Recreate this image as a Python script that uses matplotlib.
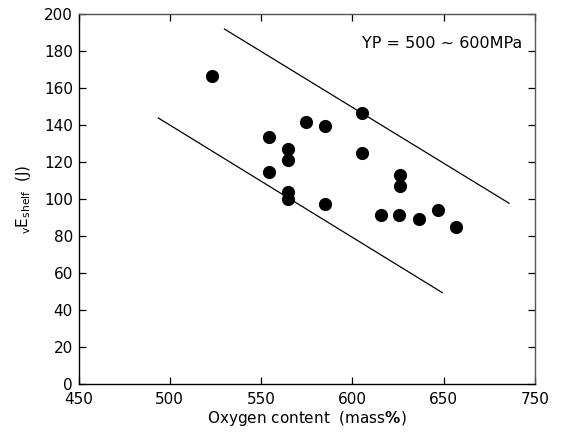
import matplotlib
matplotlib.use("Agg")
import matplotlib.pyplot as plt

plt.rcParams['font.family'] = ['DejaVu Sans']
plt.rcParams['mathtext.fontset'] = 'dejavusans'

# Data
oxygen = [523, 554.3, 554.3, 564.6, 564.6, 564.6, 564.6, 574.6, 585.2, 585.2,
          605.3, 605.3, 626, 626, 615.8, 625.7, 636.5, 646.7, 656.9]
energy = [166.6, 133.7, 114.4, 126.9, 121.1, 103.6, 100.2, 141.8, 139.5, 97.1,
          146.4, 125.1, 113, 107.2, 91.2, 91.2, 89.4, 94.1, 85.0]

upper_x = [529.9, 685.8]
upper_y = [191.9, 97.7]
lower_x = [493.7, 649.2]
lower_y = [143.8, 49.4]

xticks = [450, 500, 550, 600, 650, 700]
xticklabels = ["450", "500", "550", "600", "650", "750"]
yticks = [0, 20, 40, 60, 80, 100, 120, 140, 160, 180, 200]

fig = plt.figure(figsize=(5.79, 4.41), dpi=100)
ax = fig.add_axes([78.5/579, 1-384/441, (535-78.5)/579, (384-14)/441])

ax.plot(upper_x, upper_y, color='black', lw=0.9)
ax.plot(lower_x, lower_y, color='black', lw=0.9)
ax.scatter(oxygen, energy, s=90, color='black', zorder=3, linewidths=0)

ax.set_xlim(450, 700)
ax.set_ylim(0, 200)
ax.set_xticks(xticks)
ax.set_xticklabels(xticklabels)
ax.set_yticks(yticks)
ax.tick_params(direction='in', length=5, width=0.9, labelsize=11, colors='black',
               top=True, right=True)
ax.tick_params(axis='x', pad=6)
ax.tick_params(axis='y', pad=4)
for side in ['left', 'bottom']:
    ax.spines[side].set_color('black')
    ax.spines[side].set_linewidth(1.0)
for side in ['top', 'right']:
    ax.spines[side].set_color('#555555')
    ax.spines[side].set_linewidth(1.0)

ax.text(605, 183.8, 'YP = 500 ~ 600MPa', fontsize=11.5, ha='left', va='center')

ax.set_xlabel(r'Oxygen content  (mass$\mathbf{\%}$)', fontsize=11, labelpad=1)
ax.set_ylabel(r'$_{\mathrm{v}}\mathrm{E}_{\mathrm{shelf}}$  (J)', fontsize=11, labelpad=8)

fig.savefig('out.png', dpi=100)
